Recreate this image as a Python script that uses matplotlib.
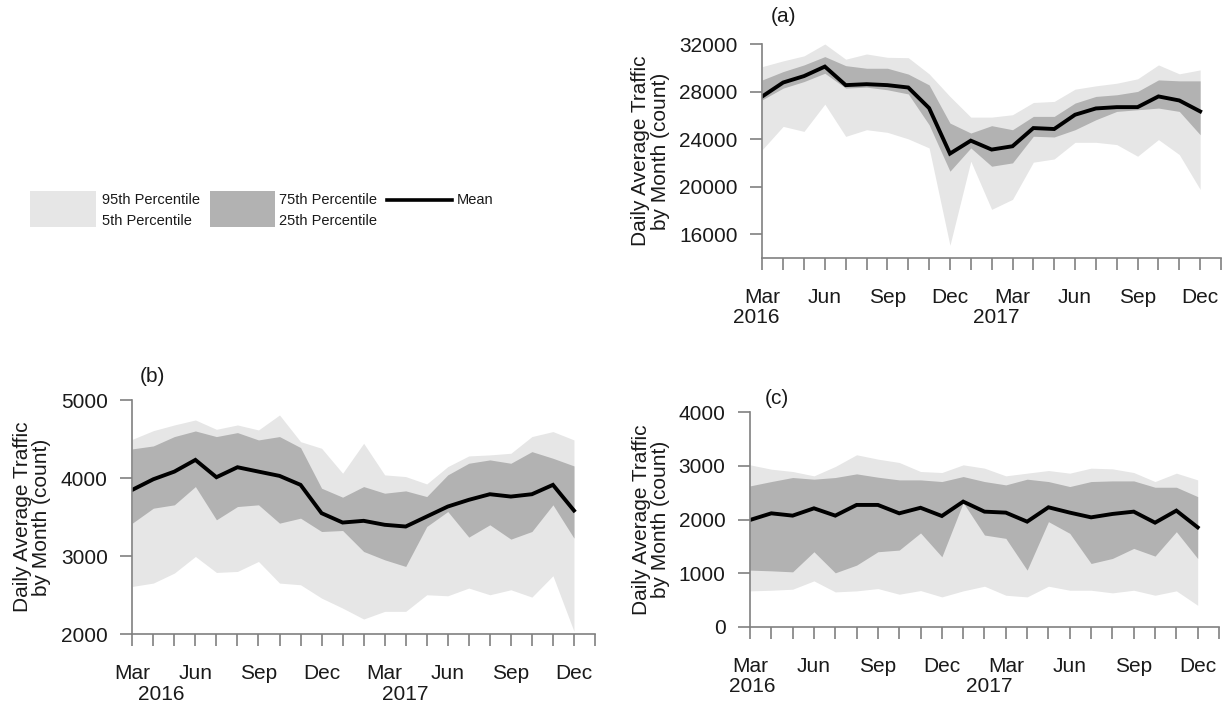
import numpy as np
import matplotlib
matplotlib.use("Agg")
import matplotlib.pyplot as plt
from matplotlib.patches import Rectangle
from matplotlib.lines import Line2D

plt.rcParams['font.family'] = ['Liberation Sans', 'DejaVu Sans']

# months Mar 2016 .. Dec 2017
months = ["Mar", "Apr", "May", "Jun", "Jul", "Aug", "Sep", "Oct", "Nov", "Dec", "Jan", "Feb",
          "Mar", "Apr", "May", "Jun", "Jul", "Aug", "Sep", "Oct", "Nov", "Dec"]

# (a)
a_p95 = [30100, 30580, 31000, 32000, 30720, 31160, 30880, 30850, 29490, 27590, 25850,
         25850, 26050, 27080, 27170, 28200, 28480, 28700, 29070, 30240, 29490, 29820]
a_p75 = [28980, 29680, 30240, 30940, 30180, 29960, 29960, 29470, 28560, 25350, 24510,
         25130, 24790, 25910, 25910, 27030, 27590, 27730, 28010, 28980, 28900, 28900]
a_mean = [27590, 28760, 29300, 30100, 28540, 28620, 28540, 28340, 26610, 22780, 23870,
          23120, 23400, 24930, 24850, 26050, 26580, 26690, 26690, 27590, 27250, 26330]
a_p25 = [27310, 28290, 28840, 29540, 28290, 28370, 28150, 27800, 25210, 21300, 23260,
         21720, 22000, 24240, 24180, 24790, 25630, 26330, 26470, 26610, 26330, 24370]
a_p5 = [23120, 25070, 24650, 26940, 24230, 24790, 24570, 24020, 23260, 15070, 22140,
        18090, 18930, 22060, 22330, 23730, 23730, 23540, 22560, 23960, 22700, 19770]

# (b)
b_p95 = [4496, 4607, 4680, 4744, 4624, 4680, 4616, 4808, 4466, 4381, 4061,
         4445, 4040, 4018, 3924, 4146, 4283, 4296, 4317, 4531, 4595, 4488]
b_p75 = [4373, 4411, 4531, 4603, 4531, 4582, 4488, 4531, 4390, 3869, 3754,
         3890, 3805, 3835, 3762, 4040, 4189, 4232, 4189, 4338, 4253, 4155]
b_mean = [3848, 3984, 4082, 4232, 4010, 4138, 4082, 4027, 3912, 3549, 3429,
          3451, 3400, 3378, 3506, 3634, 3720, 3792, 3762, 3792, 3912, 3583]
b_p25 = [3421, 3613, 3656, 3890, 3464, 3634, 3656, 3421, 3485, 3314, 3327,
         3058, 2951, 2866, 3378, 3570, 3242, 3400, 3216, 3314, 3656, 3229]
b_p5 = [2610, 2653, 2781, 2994, 2789, 2802, 2930, 2653, 2631, 2460, 2332,
        2192, 2290, 2290, 2503, 2490, 2589, 2503, 2567, 2473, 2747, 2034]

# (c)
c_p95 = [3017, 2936, 2893, 2812, 2986, 3204, 3123, 3061, 2893, 2874, 3017,
         2955, 2812, 2862, 2911, 2862, 2955, 2942, 2874, 2706, 2862, 2737]
c_p75 = [2625, 2706, 2781, 2750, 2781, 2849, 2787, 2737, 2737, 2706, 2799,
         2706, 2644, 2750, 2706, 2613, 2706, 2718, 2718, 2600, 2600, 2426]
c_mean = [1991, 2115, 2072, 2208, 2072, 2271, 2271, 2115, 2218, 2065, 2333,
          2146, 2128, 1960, 2227, 2128, 2040, 2103, 2146, 1941, 2165, 1854]
c_p25 = [1058, 1045, 1026, 1400, 1008, 1151, 1400, 1431, 1750, 1306, 2314,
         1711, 1649, 1058, 1960, 1742, 1182, 1275, 1462, 1319, 1773, 1275]
c_p5 = [672, 684, 703, 858, 653, 672, 715, 610, 678, 560, 672,
        759, 591, 560, 759, 684, 684, 635, 684, 591, 672, 404]

LIGHT = "#e6e6e6"
DARK = "#b2b2b2"
AXC = "#808080"
TXT = "#1a1a1a"
FS = 15
W, H = 1222, 708


def box(left, top, right, bottom):
    return [left / W, 1 - bottom / H, (right - left) / W, (bottom - top) / H]


def panel(ax, p5, p25, mean, p75, p95, ylim, yticks, ylab_x, year_x):
    x = np.arange(len(months))
    ax.fill_between(x, p5, p95, color=LIGHT, lw=0)
    ax.fill_between(x, p25, p75, color=DARK, lw=0)
    ax.plot(x, mean, color="black", lw=2.8, solid_joinstyle="miter")
    ax.set_xlim(0, len(months))
    ax.set_ylim(*ylim)
    ax.set_yticks(yticks)
    ax.set_xticks(np.arange(len(months) + 1))
    ax.set_xticklabels([m if i % 3 == 0 else "" for i, m in enumerate(months)] + [""])
    for s in ["top", "right"]:
        ax.spines[s].set_visible(False)
    for s in ["left", "bottom"]:
        ax.spines[s].set_color(AXC)
        ax.spines[s].set_linewidth(1.2)
    ax.tick_params(axis="x", direction="out", length=8.6, width=1.2, color=AXC,
                   pad=13, labelsize=FS, labelcolor=TXT)
    ax.tick_params(axis="y", direction="out", length=8.6, width=1.2, color=AXC,
                   pad=9, labelsize=FS, labelcolor=TXT)
    ax.set_ylabel("Daily Average Traffic\nby Month (count)", fontsize=FS,
                  color=TXT, va="center", linespacing=1.05)
    ax.yaxis.set_label_coords(ylab_x, 0.5)
    for xi, yr in zip(year_x, ["2016", "2017"]):
        ax.annotate(yr, xy=(xi, 0), xycoords=ax.get_xaxis_transform(),
                    xytext=(0, -60 * 0.72), textcoords="offset points",
                    ha="center", va="center", fontsize=FS, color=TXT)


fig = plt.figure(figsize=(12.22, 7.08), dpi=100)

ax_a = fig.add_axes(box(762.3, 44, 1221, 258))
panel(ax_a, a_p5, a_p25, a_mean, a_p75, a_p95, (14000, 32000),
      [16000, 20000, 24000, 28000, 32000], -0.244, [-0.3, 11.2])

ax_b = fig.add_axes(box(132.3, 400, 595, 634))
panel(ax_b, b_p5, b_p25, b_mean, b_p75, b_p95, (2000, 5000),
      [2000, 3000, 4000, 5000], -0.217, [1.4, 13.0])

ax_c = fig.add_axes(box(750, 412, 1219, 627))
panel(ax_c, c_p5, c_p25, c_mean, c_p75, c_p95, (0, 4000),
      [0, 1000, 2000, 3000, 4000], -0.211, [0.1, 11.2])

for lab, px, py in [("(a)", 784, 17), ("(b)", 152, 377), ("(c)", 777, 398)]:
    fig.text(px / W, 1 - py / H, lab, ha="center", va="center", fontsize=FS,
             color=TXT)

# legend
fig.add_artist(Rectangle((30 / W, 1 - 227 / H), 66 / W, 36 / H, color=LIGHT,
                         transform=fig.transFigure, lw=0))
fig.add_artist(Rectangle((210 / W, 1 - 227 / H), 65 / W, 36 / H, color=DARK,
                         transform=fig.transFigure, lw=0))
fig.add_artist(Line2D([387 / W, 452 / W], [1 - 200 / H, 1 - 200 / H], color="black",
                      lw=2.6, transform=fig.transFigure))
leg_txt = [("95th Percentile", 102, 200), ("5th Percentile", 102, 221),
           ("75th Percentile", 279, 200), ("25th Percentile", 279, 221),
           ("Mean", 457, 200)]
for t, px, py in leg_txt:
    fig.text(px / W, 1 - py / H, t, ha="left", va="center", fontsize=10.5,
             color=TXT)

fig.savefig("out.png", dpi=100)
